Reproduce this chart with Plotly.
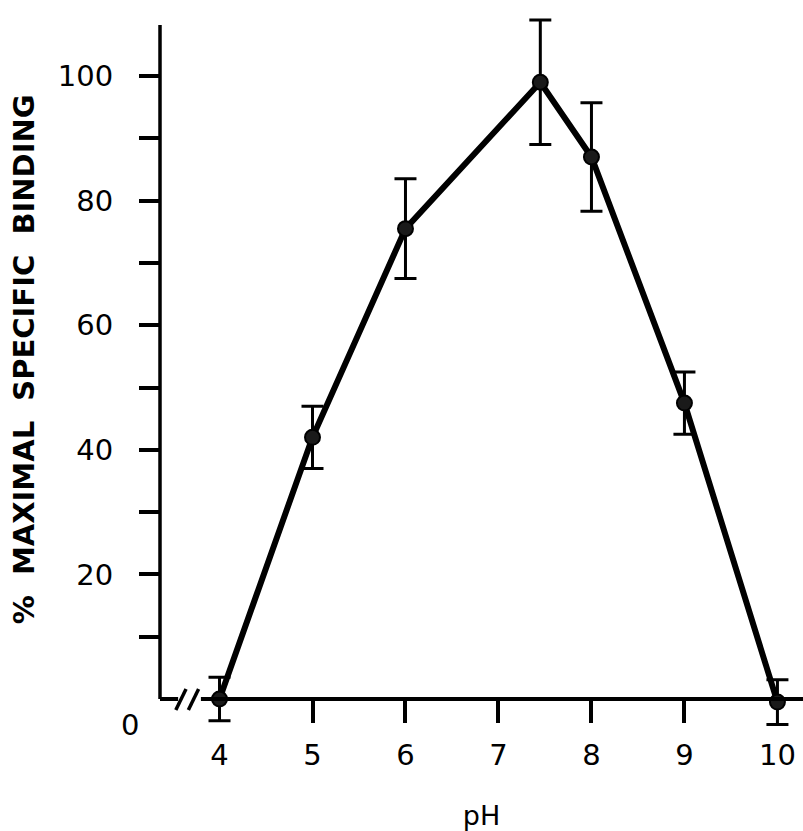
import plotly.graph_objects as go

# Data
ph = [4, 5, 6, 7.45, 8, 9, 10]
binding = [0, 42, 75.5, 99, 87, 47.5, -0.5]
err = [3.5, 5, 8, 10, 8.7, 5, 3.6]

x_tick_vals = [4, 5, 6, 7, 8, 9, 10]
x_tick_text = ["4", "5", "6", "7", "8", "9", "10"]
x_minor_vals = [5, 6, 7, 8, 9]
y_tick_vals = [10, 20, 30, 40, 50, 60, 70, 80, 90, 100]
y_tick_text = ["", "20", "", "40", "", "60", "", "80", "", "100"]
y_axis_top = 108.2

FONT = "DejaVu Sans"

fig = go.Figure()
fig.add_trace(go.Scatter(
    x=ph, y=binding,
    mode="lines+markers",
    line=dict(color="black", width=6),
    marker=dict(size=15, color="#1a1a1a", line=dict(color="black", width=2)),
    error_y=dict(type="data", array=err, visible=True, color="black",
                 thickness=3, width=11),
    cliponaxis=False,
    showlegend=False,
))

W, H = 803, 831
ml, mr, mt, mb = 160, 0, 8, 100
zero_px = 699          # pixel row of the x axis
pxu = 6.23             # pixels per % unit
ymax = (zero_px - mt) / pxu
ymin = -(H - mb - zero_px) / pxu
plot_h = H - mt - mb

fig.update_layout(
    width=W, height=H,
    margin=dict(l=ml, r=mr, t=mt, b=mb),
    paper_bgcolor="white", plot_bgcolor="white",
    font=dict(family=FONT, color="black"),
    xaxis=dict(
        range=[3.36, 10.275],
        anchor="free", position=(0 - ymin) / (ymax - ymin),
        showline=True, linewidth=3.5, linecolor="black",
        showgrid=False, zeroline=False,
        tickmode="array", tickvals=x_tick_vals, ticktext=x_tick_text,
        ticks="", ticklabelstandoff=29,
        tickfont=dict(size=29, family=FONT, color="black"),
        minor=dict(tickmode="array", tickvals=x_minor_vals, ticks="outside",
                   ticklen=22, tickwidth=3.5, tickcolor="black", showgrid=False),
        title=dict(text="pH", font=dict(size=27, family=FONT, color="black"),
                   standoff=40),
        automargin=False,
    ),
    yaxis=dict(
        range=[ymin, ymax],
        showline=False,
        showgrid=False, zeroline=False,
        tickmode="array", tickvals=y_tick_vals, ticktext=y_tick_text,
        ticks="outside", ticklen=20, tickwidth=3.5, tickcolor="black",
        ticklabelstandoff=20,
        tickfont=dict(size=29, family=FONT, color="black"),
        title=dict(text="<b>&nbsp;&nbsp;%  MAXIMAL  SPECIFIC  BINDING</b>",
                   font=dict(size=29, family=FONT, color="black"),
                   standoff=14),
        automargin=False,
    ),
)

# y axis line, from 0 up to the top of the scale
fig.add_shape(type="line", xref="paper", yref="y", x0=0, x1=0,
              y0=0, y1=y_axis_top, line=dict(color="black", width=3.5),
              layer="above")

# "0" label at the origin corner
def py(p):
    return (H - mb - p) / plot_h

fig.add_annotation(text="0", xref="paper", yref="paper",
                   x=(130 - ml) / (W - ml - mr), y=py(725),
                   xanchor="center", yanchor="middle", showarrow=False,
                   font=dict(size=29, family=FONT, color="black"))

# axis break "//" on the x axis
fig.add_shape(type="rect", xref="x", yref="paper", x0=3.555, x1=3.80,
              y0=py(704), y1=py(694), fillcolor="white", line=dict(width=0),
              layer="above")
for x0, x1 in [(3.53, 3.64), (3.665, 3.775)]:
    fig.add_shape(type="line", xref="x", yref="paper", x0=x0, x1=x1,
                  y0=py(710), y1=py(689), line=dict(color="black", width=3.5),
                  layer="above")

fig.write_html("out.html")
